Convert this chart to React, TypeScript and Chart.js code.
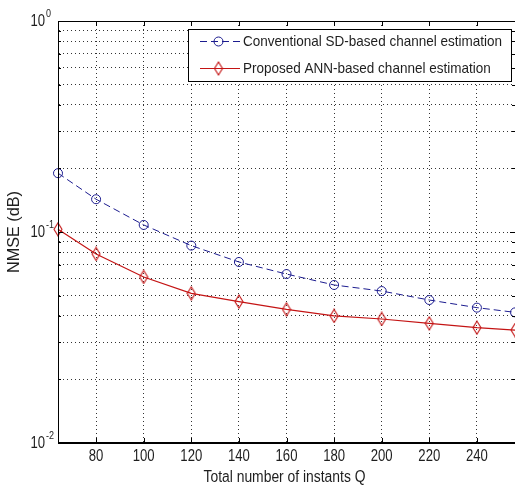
import React, { useEffect, useRef } from "react";
import { Chart, registerables } from "chart.js";

Chart.register(...registerables);

// ---- data ----
const xValues = [64, 80, 100, 120, 140, 160, 180, 200, 220, 240, 256];
const conventionalSD = [0.19, 0.143, 0.108, 0.0862, 0.0721, 0.0632, 0.0561, 0.0525, 0.0476, 0.0438, 0.0416];
const proposedANN = [0.103, 0.0787, 0.0612, 0.0512, 0.0468, 0.043, 0.04, 0.0387, 0.0369, 0.0352, 0.0343];
const xTickValues = [80, 100, 120, 140, 160, 180, 200, 220, 240];
const yTickValues = [
  0.01, 0.02, 0.03, 0.04, 0.05, 0.06, 0.07, 0.08, 0.09,
  0.1, 0.2, 0.3, 0.4, 0.5, 0.6, 0.7, 0.8, 0.9, 1,
];
const yLabelValues = [1, 0.1, 0.01];
const yLabelExponents = ["0", "-1", "-2"];
const seriesLabels = [
  "Conventional SD-based channel estimation",
  "Proposed ANN-based channel estimation",
];
const xTitle = "Total number of instants Q";
const yTitle = "NMSE (dB)";

const FONT = '"Liberation Sans", Arial, sans-serif';
const NARROW = 0.82;
const BLUE = "#1c1c8f";
const RED = "#c41414";
const TEXT = "#1e1e1e";

function makeDiamond(color: string): HTMLCanvasElement {
  const c = document.createElement("canvas");
  c.width = 10;
  c.height = 15;
  const g = c.getContext("2d")!;
  g.strokeStyle = color;
  g.lineWidth = 1.1;
  g.beginPath();
  g.moveTo(5, 1);
  g.lineTo(9, 7.5);
  g.lineTo(5, 14);
  g.lineTo(1, 7.5);
  g.closePath();
  g.stroke();
  return c;
}

function narrowText(
  ctx: CanvasRenderingContext2D,
  text: string,
  x: number,
  y: number,
  size: number,
  align: CanvasTextAlign,
  baseline: CanvasTextBaseline,
  sx: number,
  rotate = 0
) {
  ctx.save();
  ctx.font = size + "px " + FONT;
  ctx.textAlign = align;
  ctx.textBaseline = baseline;
  ctx.translate(x, y);
  if (rotate) ctx.rotate(rotate);
  ctx.scale(sx, 1);
  ctx.fillText(text, 0, 0);
  ctx.restore();
}

export default function App() {
  const ref = useRef<HTMLCanvasElement | null>(null);

  useEffect(() => {
    if (!ref.current) return;
    const diamond = makeDiamond(RED);

    const overlay = {
      id: "matlabFrame",
      afterDraw(chart: any) {
        const ctx = chart.ctx as CanvasRenderingContext2D;
        const a = chart.chartArea;
        const xs = chart.scales.x;
        const ys = chart.scales.y;
        ctx.save();
        // frame: top, left, bottom (right side lies past the canvas edge)
        ctx.strokeStyle = "#000";
        ctx.lineWidth = 1;
        ctx.setLineDash([]);
        ctx.beginPath();
        ctx.moveTo(a.right + 2, a.top + 0.5);
        ctx.lineTo(a.left + 0.5, a.top + 0.5);
        ctx.lineTo(a.left + 0.5, a.bottom - 0.5);
        ctx.lineTo(a.right + 2, a.bottom - 0.5);
        ctx.stroke();
        // inward ticks
        ctx.beginPath();
        xTickValues.forEach((v) => {
          const px = Math.round(xs.getPixelForValue(v)) + 0.5;
          ctx.moveTo(px, a.top);
          ctx.lineTo(px, a.top + 5);
          ctx.moveTo(px, a.bottom);
          ctx.lineTo(px, a.bottom - 5);
        });
        yTickValues.forEach((v) => {
          const py = Math.round(ys.getPixelForValue(v)) + 0.5;
          const len = yLabelValues.includes(v) ? 5 : 3;
          ctx.moveTo(a.left, py);
          ctx.lineTo(a.left + len, py);
          ctx.moveTo(a.right, py);
          ctx.lineTo(a.right - len, py);
        });
        ctx.stroke();

        ctx.fillStyle = TEXT;
        // x tick labels
        xTickValues.forEach((v) => {
          const px = xs.getPixelForValue(v);
          narrowText(ctx, String(v), px, a.bottom + 14, 16, "center", "middle", NARROW);
        });
        // y labels 10^n
        yLabelValues.forEach((v, i) => {
          const py = ys.getPixelForValue(v);
          narrowText(ctx, "10", 45, py + 1, 16, "right", "middle", NARROW);
          narrowText(ctx, yLabelExponents[i], 46, py - 4, 11, "left", "alphabetic", NARROW);
        });
        // axis titles
        ctx.font = "16px " + FONT;
        const wx = ctx.measureText(xTitle).width;
        narrowText(ctx, xTitle, (a.left + a.right) / 2 - 2, 478, 16, "center", "middle", 162 / wx);
        const wy = ctx.measureText(yTitle).width;
        narrowText(ctx, yTitle, 15, (a.top + a.bottom) / 2, 16, "center", "middle", 82 / wy, -Math.PI / 2);

        // legend
        const lx = 188, ly = 29, lw = 323, lh = 52;
        ctx.fillStyle = "#fff";
        ctx.fillRect(lx, ly, lw, lh);
        ctx.strokeStyle = "#000";
        ctx.lineWidth = 1;
        ctx.strokeRect(lx + 0.5, ly + 0.5, lw, lh);
        const rows = [41, 68];
        // blue sample
        ctx.strokeStyle = BLUE;
        ctx.lineWidth = 1;
        ctx.setLineDash([7, 4]);
        ctx.beginPath();
        ctx.moveTo(200, rows[0] + 0.5);
        ctx.lineTo(240, rows[0] + 0.5);
        ctx.stroke();
        ctx.setLineDash([]);
        ctx.beginPath();
        ctx.arc(218.5, rows[0] + 0.5, 4.5, 0, Math.PI * 2);
        ctx.stroke();
        // red sample
        ctx.strokeStyle = RED;
        ctx.lineWidth = 1.2;
        ctx.beginPath();
        ctx.moveTo(200, rows[1] + 0.5);
        ctx.lineTo(240, rows[1] + 0.5);
        ctx.stroke();
        ctx.drawImage(diamond, 218.5 - 5, rows[1] + 0.5 - 7.5);
        // legend text
        ctx.fillStyle = TEXT;
        ctx.font = "15px " + FONT;
        const w0 = ctx.measureText(seriesLabels[0]).width;
        const sx = 259 / w0;
        seriesLabels.forEach((t, i) => {
          narrowText(ctx, t, 243, rows[i] + 1, 15, "left", "middle", sx);
        });
        ctx.restore();
      },
    };

    const chart = new Chart(ref.current, {
      type: "line",
      data: {
        datasets: [
          {
            label: seriesLabels[0],
            data: xValues.map((x, i) => ({ x, y: conventionalSD[i] })),
            borderColor: BLUE,
            borderWidth: 1,
            borderDash: [7, 4],
            pointStyle: "circle",
            pointRadius: 4.5,
            pointBorderWidth: 1,
            pointBorderColor: BLUE,
            pointBackgroundColor: "rgba(0,0,0,0)",
            tension: 0,
            fill: false,
          },
          {
            label: seriesLabels[1],
            data: xValues.map((x, i) => ({ x, y: proposedANN[i] })),
            borderColor: RED,
            borderWidth: 1.2,
            pointStyle: diamond,
            pointRadius: 6,
            pointBorderColor: RED,
            pointBackgroundColor: "rgba(0,0,0,0)",
            tension: 0,
            fill: false,
          },
        ],
      },
      options: {
        responsive: false,
        animation: false,
        clip: false as any,
        layout: { autoPadding: false, padding: { top: 21, right: 0, left: 0, bottom: 0 } },
        plugins: {
          legend: { display: false },
          tooltip: { enabled: false },
        },
        scales: {
          x: {
            type: "linear",
            min: 64,
            max: 256,
            afterBuildTicks: (s: any) => {
              s.ticks = xTickValues.map((v) => ({ value: v }));
            },
            afterFit: (s: any) => {
              s.height = 45;
            },
            grid: {
              color: "rgba(0,0,0,0.8)",
              lineWidth: 1,
              drawTicks: false,
            },
            border: { display: true, color: "#000", width: 1, dash: [1, 3] },
            ticks: { display: false },
          },
          y: {
            type: "logarithmic",
            min: 0.01,
            max: 1,
            afterBuildTicks: (s: any) => {
              s.ticks = yTickValues.map((v) => ({ value: v, major: yLabelValues.includes(v) }));
            },
            afterFit: (s: any) => {
              s.width = 58;
            },
            grid: {
              color: "rgba(0,0,0,0.8)",
              lineWidth: 1,
              drawTicks: false,
            },
            border: { display: true, color: "#000", width: 1, dash: [1, 3] },
            ticks: { display: false },
          },
        },
      },
      plugins: [overlay],
    } as any);

    return () => chart.destroy();
  }, []);

  return (
    <canvas
      ref={ref}
      width={515}
      height={488}
      style={{ position: "fixed", left: 0, top: 0, display: "block", background: "#fff" }}
    />
  );
}
